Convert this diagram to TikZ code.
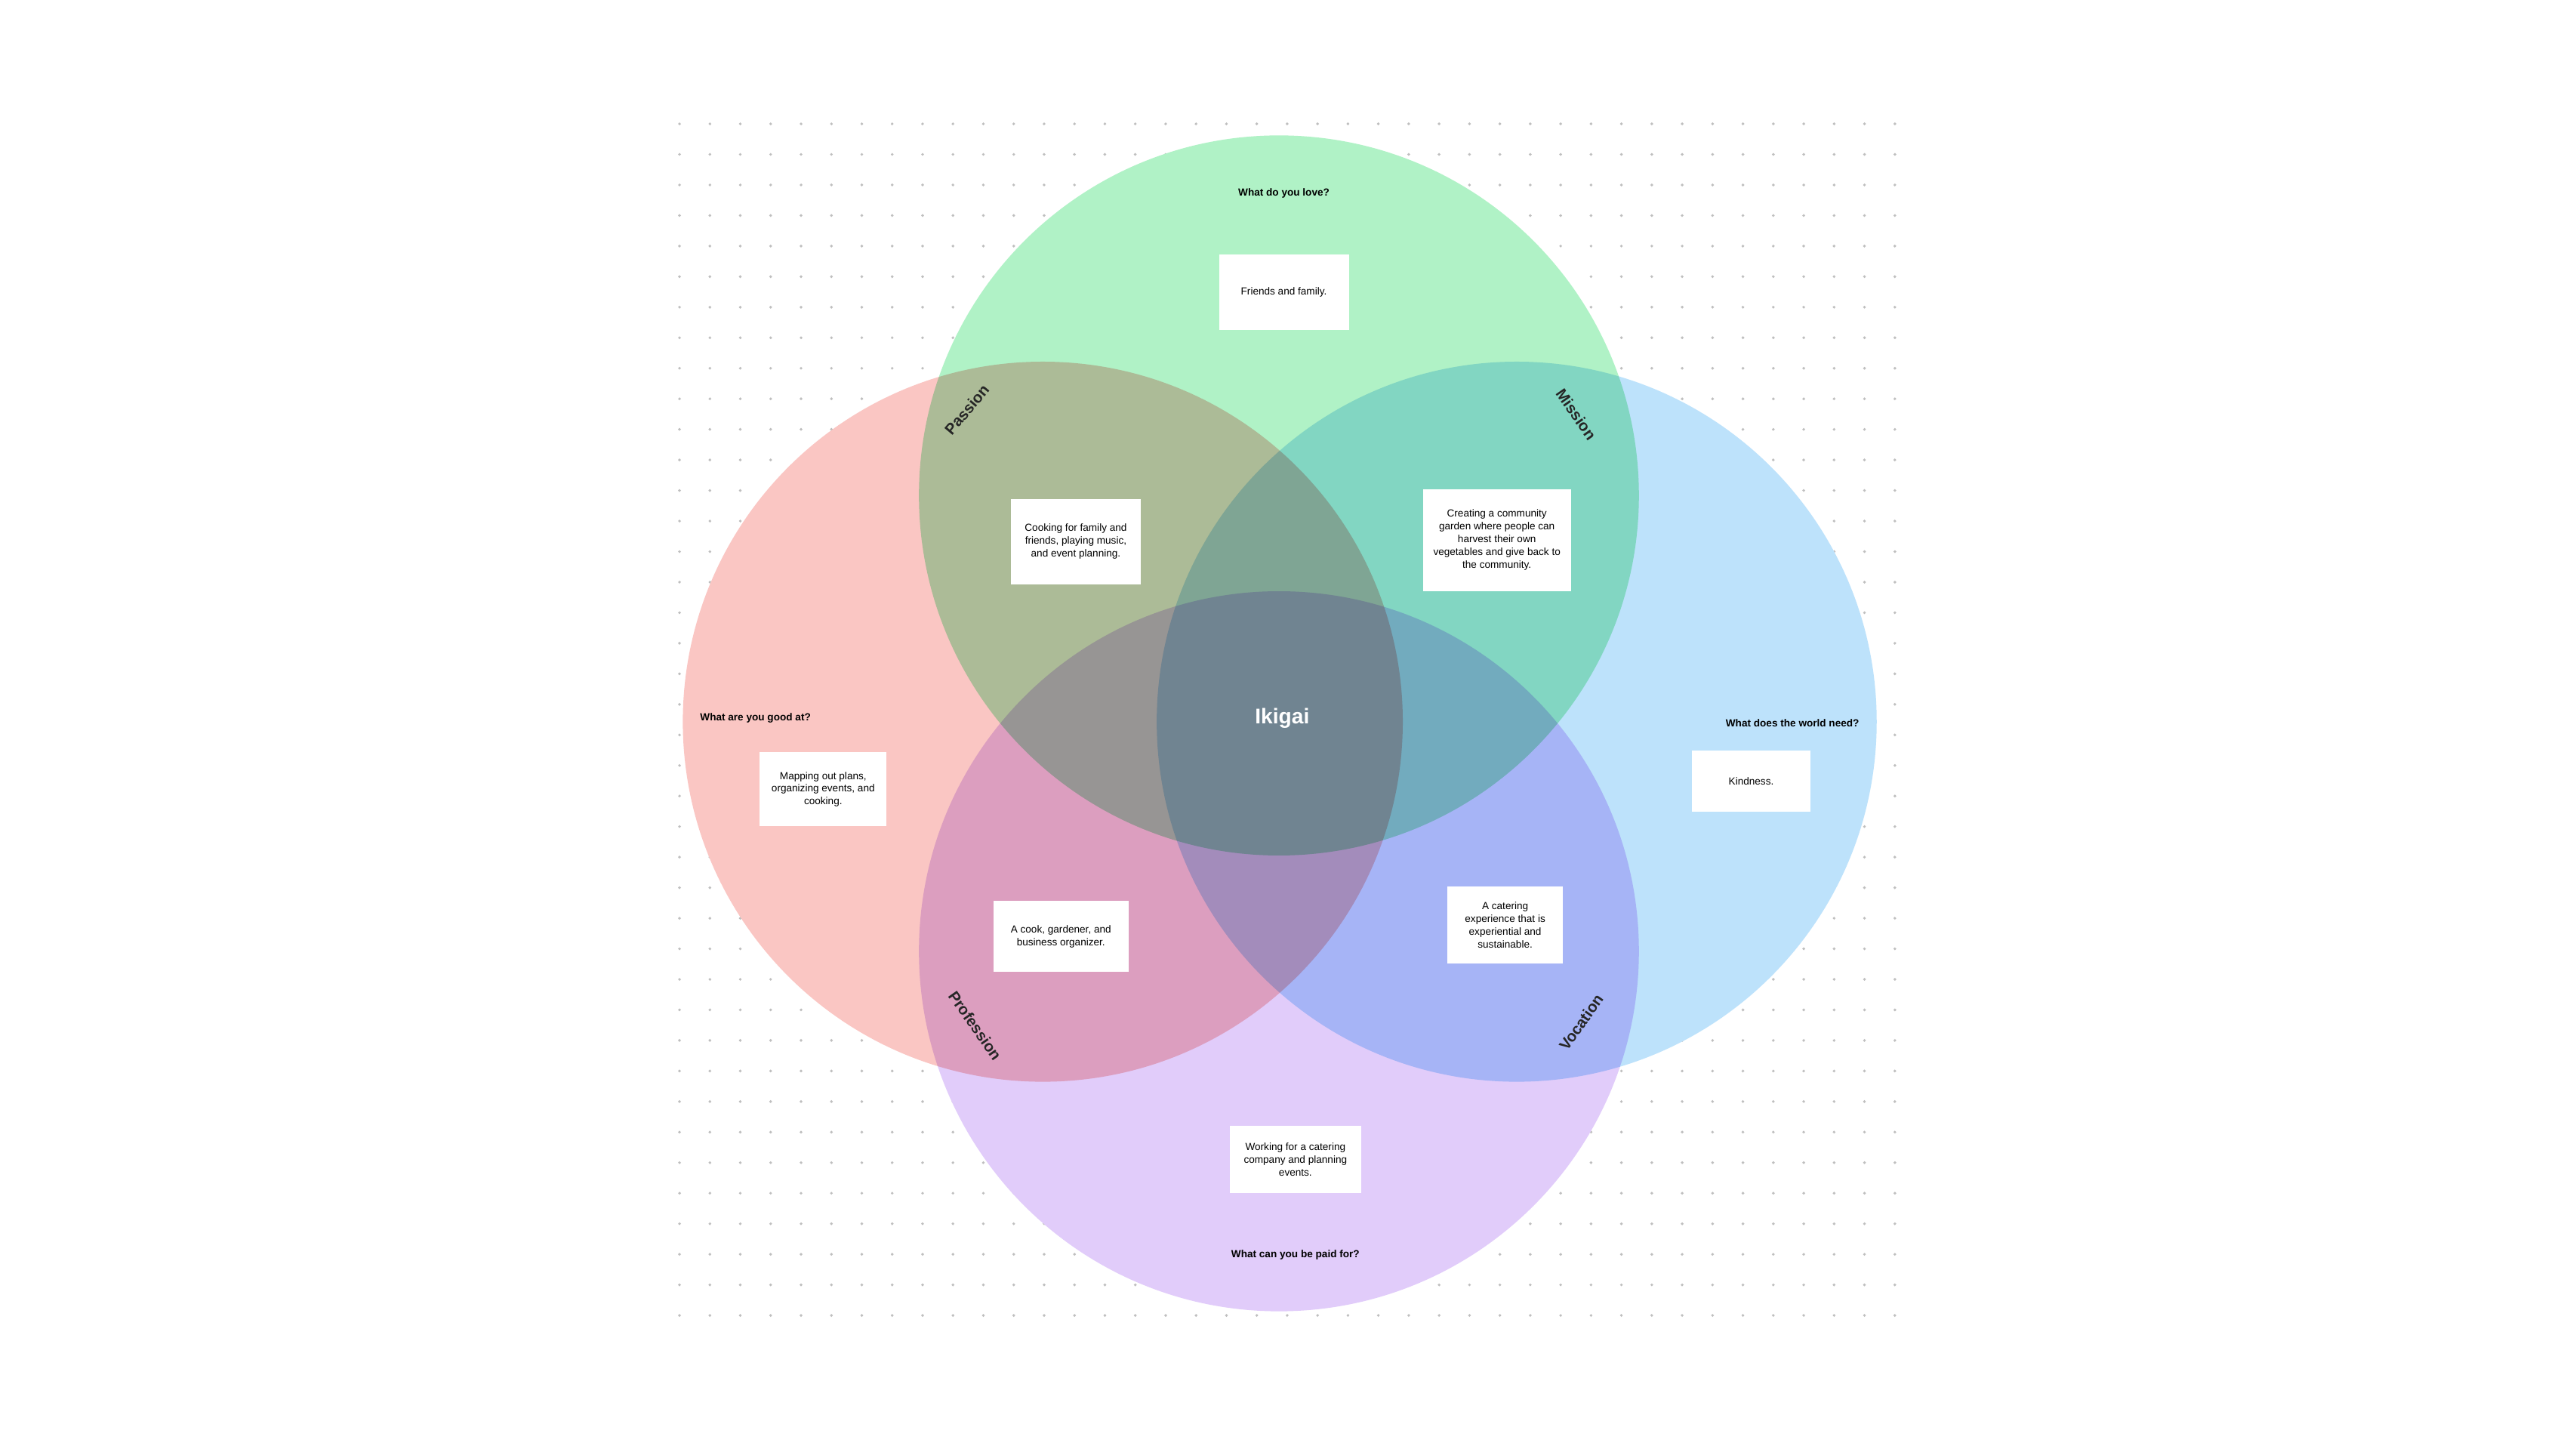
\documentclass[tikz,border=0pt]{standalone}
\usepackage{fontspec}
\setmainfont{Liberation Sans}
\usetikzlibrary{positioning}
\definecolor{loveColor}{HTML}{B0F2C6}
\definecolor{goodColor}{HTML}{FAC6C3}
\definecolor{needColor}{HTML}{BDE2FB}
\definecolor{paidColor}{HTML}{E1CCFA}
\tikzset{
    answer/.style 2 args={
        rectangle,
        fill=white,
        font=\fontsize{5.3}{6.6}\selectfont,
        align=center,
        inner sep=1pt,
        minimum width={0.85*#1*1pt},
        minimum height={0.85*#2*1pt}
    },
    question/.style={
        font=\bfseries\fontsize{5.3}{6}\selectfont
    },
    quadrant/.style={
        font=\bfseries\fontsize{8}{9}\selectfont,
        text=black!85
    }
}

\begin{document}
\begin{tikzpicture}[x=0.03cm, y=-0.03cm]
    \useasboundingbox (3.5,0) rectangle (1563.5,877);
    \fill[white] (3.5,0) rectangle (1563.5,877);
    % dot grid
    \foreach \i in {0,...,40} {
        \foreach \j in {0,...,39} {
            \fill[black!25] ({415+\i*18.4},{75+\j*18.5}) circle (0.9);
        }
    }
    % circles
    \begin{scope}[blend group=multiply]
        \fill[loveColor] (778,300) circle (218);
        \fill[goodColor] (635,437) circle (218);
        \fill[needColor] (922,437) circle (218);
        \fill[paidColor] (778,576) circle (218);
    \end{scope}

    \node[text=white, font=\bfseries\fontsize{11}{12}\selectfont] (ikigai) at (780,435) {Ikigai};

    \node[question] (love) at (781,117) {What do you love?};
    \node[question] (good) at (461,435) {What are you good at?};
    \node[question] (need) at (1089,438) {What does the world need?};
    \node[question] (paid) at (788,760) {What can you be paid for?};

    \node[quadrant, rotate=50] (passion) at (589,248) {Passion};
    \node[quadrant, rotate=-55] (mission) at (958,251) {Mission};
    \node[quadrant, rotate=-55] (profession) at (594,621) {Profession};
    \node[quadrant, rotate=55] (vocation) at (961,619) {Vocation};

    \node[answer={79}{46}] (family) at (781,177) {Friends and family.};
    \node[answer={79}{52}] (cooking) at (655,328) {Cooking for family and\\friends, playing music,\\and event planning.};
    \node[answer={90}{62}] (garden) at (910,327) {Creating a community\\garden where people can\\harvest their own\\vegetables and give back to\\the community.};
    \node[answer={77}{45}] (plans) at (502,478) {Mapping out plans,\\organizing events, and\\cooking.};
    \node[answer={72}{37}] (kind) at (1064,473) {Kindness.};
    \node[answer={82}{43}] (cook) at (646,567) {A cook, gardener, and\\business organizer.};
    \node[answer={70}{47}] (catering) at (915,560) {A catering\\experience that is\\experiential and\\sustainable.};
    \node[answer={80}{41}] (working) at (788,702) {Working for a catering\\company and planning\\events.};
\end{tikzpicture}
\end{document}
